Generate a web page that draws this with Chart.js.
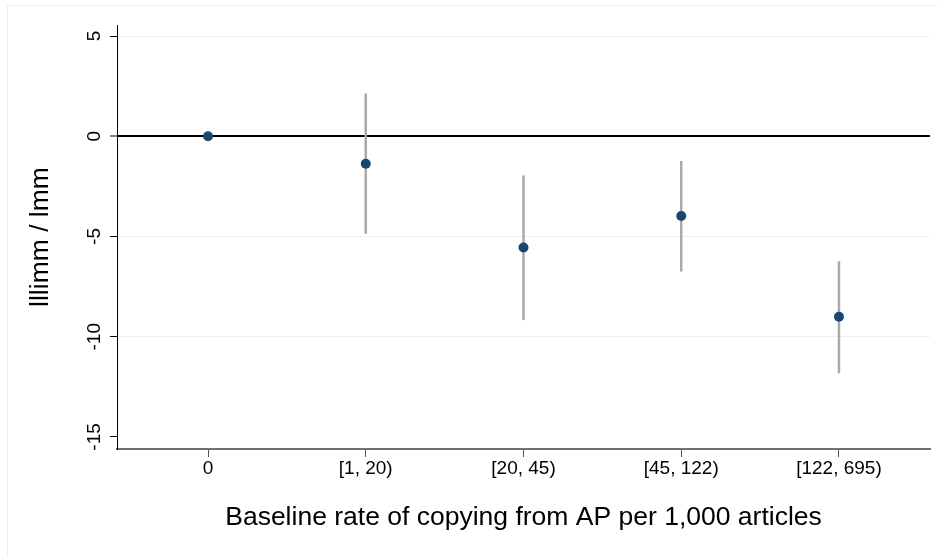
<!DOCTYPE html>
<html>
<head>
<meta charset="utf-8">
<script src="https://cdn.jsdelivr.net/npm/chart.js@4"></script>
<style>
	html, body { margin: 0; padding: 0; background: #fff; overflow: hidden; }
	#wrap { position: relative; width: 937px; height: 557px; }
	#frame { position: absolute; left: 7px; top: 5px; width: 1000px; height: 1000px; border: 1px solid #eaf1f4; }
	canvas { position: absolute; left: 0; top: 0; }
</style>
</head>
<body>
<div id="wrap">
	<div id="frame"></div>
	<canvas id="chart" width="937" height="557"></canvas>
</div>
<script>
const FONT = "'Liberation Sans', Arial, sans-serif";

//Dati.
const categories = ["0", "[1, 20)", "[20, 45)", "[45, 122)", "[122, 695)"];
const estimates = [0, -1.37, -5.55, -3.98, -9.0];
const ciLow = [null, -4.87, -9.17, -6.75, -11.82];
const ciHigh = [null, 2.13, -1.95, -1.23, -6.23];
const yTicks = [-15, -10, -5, 0, 5];

const MARKER = "#1a476f";
const CI_COLOR = "#aaaaaa";

//Etichette dell'asse y ruotate di 90 gradi.
const yTickLabels = {
	id: "yTickLabels",
	afterDraw(chart){
		const scale = chart.scales.y;
		const ctx = chart.ctx;
		ctx.save();
		ctx.font = "19px " + FONT;
		ctx.fillStyle = "#000";
		ctx.textAlign = "center";
		ctx.textBaseline = "alphabetic";
		scale.ticks.forEach(t => {
			ctx.save();
			ctx.translate(100, scale.getPixelForValue(t.value));
			ctx.rotate(-Math.PI / 2);
			ctx.fillText(String(t.value), 0, 0);
			ctx.restore();
		});
		ctx.restore();
	}
};

const datasets = [{
	label: "stima",
	data: estimates.map((v, i) => ({ x: i, y: v })),
	backgroundColor: MARKER,
	borderColor: MARKER,
	pointRadius: 5,
	pointBorderWidth: 0,
	order: 0
}];

//Un segmento per ogni intervallo di confidenza.
categories.forEach((c, i) => {
	if(ciLow[i] === null) return;
	datasets.push({
		label: "ci " + c,
		data: [{ x: i, y: ciLow[i] }, { x: i, y: ciHigh[i] }],
		showLine: true,
		borderColor: CI_COLOR,
		borderWidth: 2.5,
		borderCapStyle: "butt",
		pointRadius: 0,
		order: 1
	});
});

new Chart(document.getElementById("chart"), {
	type: "scatter",
	data: { datasets: datasets },
	plugins: [yTickLabels],
	options: {
		responsive: false,
		animation: false,
		events: [],
		layout: { padding: { top: 25, right: 7, left: 0, bottom: 0 } },
		plugins: { legend: { display: false }, tooltip: { enabled: false } },
		scales: {
			x: {
				type: "linear",
				min: -0.577,
				max: 4.577,
				afterFit: s => { s.height = 108; },
				afterBuildTicks: s => { s.ticks = categories.map((c, i) => ({ value: i })); },
				border: { color: "#707070", width: 2 },
				grid: { drawOnChartArea: false, drawTicks: true, tickLength: 8, tickColor: "#555", tickWidth: 1 },
				ticks: {
					padding: 0,
					color: "#000",
					font: { family: FONT, size: 19 },
					callback: v => categories[v]
				},
				title: {
					display: true,
					text: "Baseline rate of copying from AP per 1,000 articles",
					color: "#000",
					font: { family: FONT, size: 26.5 },
					padding: { top: 0, bottom: 23.5 }
				}
			},
			y: {
				type: "linear",
				min: -15.6,
				max: 5.55,
				afterFit: s => { s.width = 117; },
				afterBuildTicks: s => { s.ticks = yTicks.map(v => ({ value: v })); },
				border: { color: "#000", width: 1 },
				grid: {
					color: c => c.tick.value === 0 ? "#000" : (c.tick.value === -15 ? "rgba(0,0,0,0)" : "#eaf1f4"),
					lineWidth: c => c.tick.value === 0 ? 2 : 1,
					drawTicks: true,
					tickLength: 7,
					tickColor: "#000",
					tickWidth: 1
				},
				ticks: { display: false },
				title: {
					display: true,
					text: "lllimm / lmm",
					color: "#000",
					font: { family: FONT, size: 26.5 },
					padding: { top: 25, bottom: 0 }
				}
			}
		}
	}
});
</script>
</body>
</html>
